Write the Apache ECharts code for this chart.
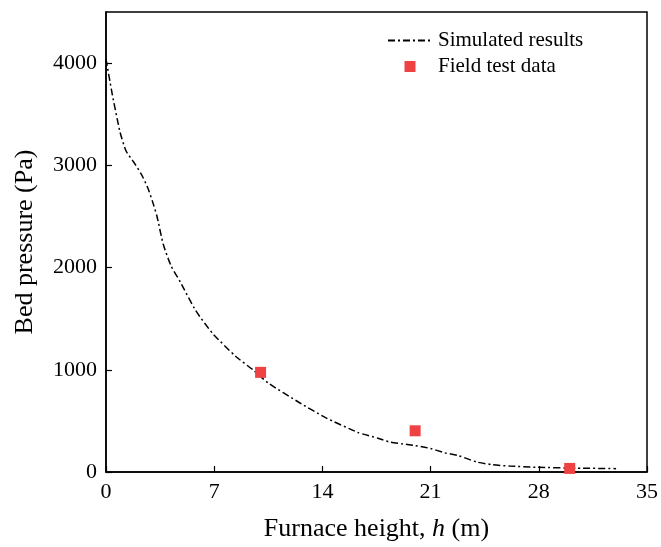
<!DOCTYPE html>
<html>
<head>
<meta charset="utf-8">
<script src="https://cdn.jsdelivr.net/npm/echarts@6/dist/echarts.min.js"></script>
<style>
  html, body { margin: 0; padding: 0; background: #fff; overflow: hidden; }
  #chart { width: 661px; height: 547px; }
</style>
</head>
<body>
<div id="chart"></div>
<script>
// Simulated bed pressure profile along the furnace height
const simHeight = [0, 0.4, 0.9, 1.3, 1.8, 2.3, 2.7, 3.0, 3.3, 3.7, 4.2, 4.8, 5.8, 6.9, 8.4, 9.5,
  10.5, 12.5, 14.2, 16.3, 17.6, 18.3, 19.2, 20.0, 21.0, 21.9, 22.8, 24.0, 25.0, 26.1, 27.9, 30.4, 33.0];
const simPressure = [4040, 3700, 3330, 3140, 3030, 2910, 2780, 2650, 2500, 2230, 2020, 1860, 1580, 1355, 1130, 1000,
  870, 680, 532, 387, 330, 295, 275, 258, 230, 188, 160, 97, 72, 58, 46, 38, 33];

// Field measurements
const testHeight = [10, 20, 30];
const testPressure = [975, 403, 35];

const xTicks = [0, 7, 14, 21, 28, 35];
const yTicks = [0, 1000, 2000, 3000, 4000];

const font = '"Liberation Serif", "Times New Roman", serif';
const red = '#ef4242';

const chart = echarts.init(document.getElementById('chart'), null, { renderer: 'canvas' });

chart.setOption({
  animation: false,
  backgroundColor: '#fff',
  grid: {
    left: 106, right: 10, top: 12, bottom: 70,
    show: true, borderColor: '#000', borderWidth: 1.5, backgroundColor: 'transparent'
  },
  legend: {
    orient: 'vertical',
    left: 382, top: 25,
    itemWidth: 44, itemHeight: 11, itemGap: 5,
    textStyle: { fontFamily: font, fontSize: 21, color: '#000', padding: [0, 0, 0, 1] },
    data: [
      { name: 'Simulated results', itemStyle: { opacity: 0 } },
      { name: 'Field test data', icon: 'path://M0,0H10V10H0Z', itemStyle: { color: red, opacity: 1 } }
    ]
  },
  xAxis: {
    type: 'value',
    min: xTicks[0], max: xTicks[xTicks.length - 1], interval: 7,
    name: '{n|Furnace height, }{i|h}{n| (m)}',
    nameLocation: 'middle', nameGap: 44,
    nameTextStyle: {
      rich: {
        n: { fontFamily: font, fontSize: 26, color: '#000' },
        i: { fontFamily: font, fontSize: 26, color: '#000', fontStyle: 'italic' }
      }
    },
    axisLine: { lineStyle: { color: '#000', width: 1.5 } },
    axisTick: { inside: true, length: 6, lineStyle: { color: '#000', width: 1.2 } },
    axisLabel: { fontFamily: font, fontSize: 22, color: '#000', margin: 9 },
    splitLine: { show: false }
  },
  yAxis: {
    type: 'value',
    min: yTicks[0], max: 4500, interval: 1000,
    name: 'Bed pressure (Pa)',
    nameLocation: 'middle', nameGap: 68,
    nameTextStyle: { fontFamily: font, fontSize: 26, color: '#000' },
    axisLine: { lineStyle: { color: '#000', width: 1.5 } },
    axisTick: { inside: true, length: 6, lineStyle: { color: '#000', width: 1.2 } },
    axisLabel: { fontFamily: font, fontSize: 22, color: '#000', margin: 9, showMaxLabel: false,
      formatter: v => (yTicks.indexOf(v) >= 0 ? String(v) : '') },
    splitLine: { show: false }
  },
  series: [
    {
      name: 'Simulated results',
      type: 'line',
      data: simHeight.map((h, i) => [h, simPressure[i]]),
      smooth: 0.2,
      symbol: 'none',
      lineStyle: { color: '#000', width: 1.5, type: [7, 3, 2, 3] },
      itemStyle: { color: '#000' },
      z: 2
    },
    {
      name: 'Field test data',
      type: 'scatter',
      data: testHeight.map((h, i) => [h, testPressure[i]]),
      symbol: 'rect',
      symbolSize: 11,
      itemStyle: { color: red, opacity: 1 },
      z: 3
    }
  ]
});
</script>
</body>
</html>
